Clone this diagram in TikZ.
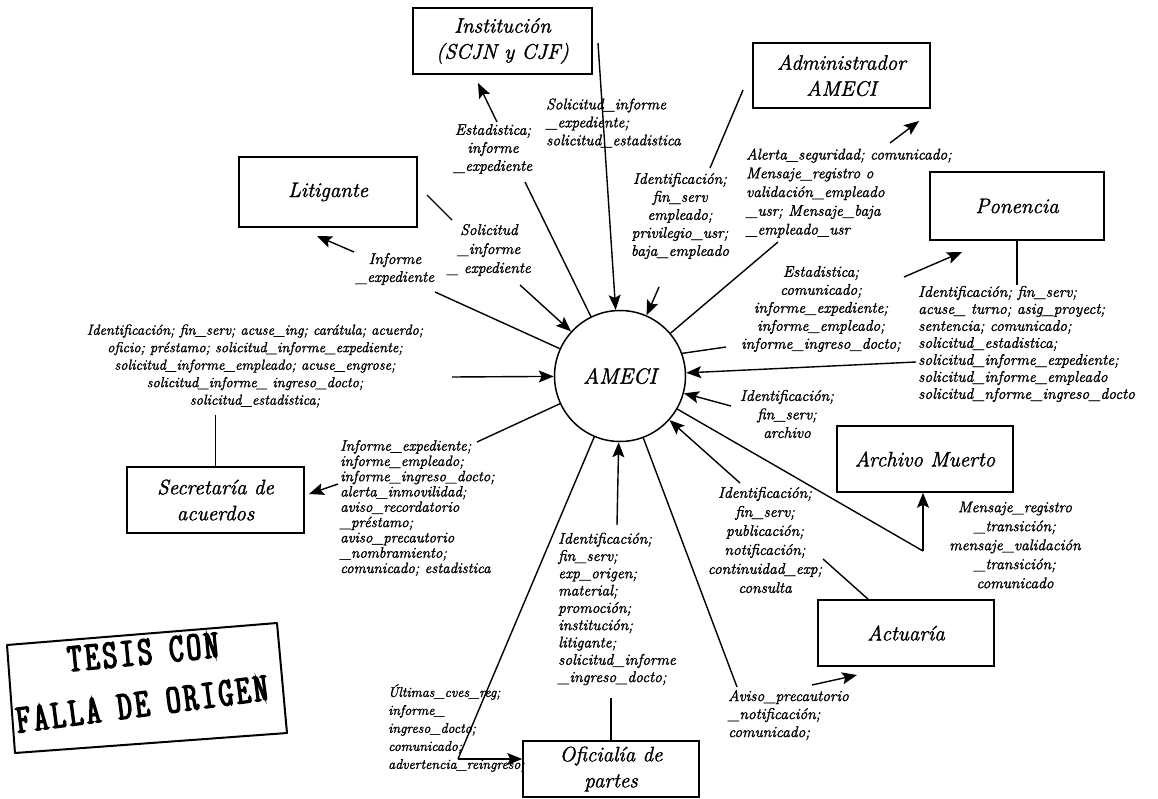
\documentclass[tikz,border=0pt]{standalone}
\usepackage{fontspec}
\setmainfont{Latin Modern Roman}[ItalicFeatures={FakeBold=1.5}]
\newfontfamily\stampfont{lmmonoltcond10-regular.otf}[FakeBold=4, LetterSpace=9]
\usetikzlibrary{arrows.meta}
\begin{document}
\begin{tikzpicture}[x=1pt,y=-1pt,
  box/.style={draw, line width=1.5pt, inner sep=2pt, align=center, font=\fontsize{21}{26}\selectfont\itshape},
  lbl/.style={inner sep=0pt, align=center, font=\fontsize{15.5}{#1}\selectfont\itshape},
  lbl/.default=17,
  con/.style={line width=1.4pt},
  arr/.style={line width=1.4pt, -{Stealth[length=15pt,width=12pt,inset=3pt]}},
  stampline/.style={inner sep=0pt, font=\fontsize{40}{40}\stampfont},
]
\useasboundingbox (0,0) rectangle (1158,799);
\fill[white] (0,0) rectangle (1158,799);

% ---------- boxes ----------
\node[box, minimum width=179pt, minimum height=66pt] (inst) at (502.5,41) {Institución\\(SCJN y CJF)};
\node[box, minimum width=177pt, minimum height=65pt] (admin) at (841.5,75.5) {Administrador\\AMECI};
\node[box, minimum width=178pt, minimum height=70pt] (lit) at (328,192) {Litigante};
\node[box, minimum width=174pt, minimum height=68pt] (pon) at (1017,206) {Ponencia};
\node[box, minimum width=177pt, minimum height=66pt] (sec) at (215.5,500) {Secretaría de\\acuerdos};
\node[box, minimum width=176pt, minimum height=56pt] (ofi) at (611,769) {Oficialía de\\partes};
\node[box, minimum width=176pt, minimum height=66pt] (arch) at (925,459) {Archivo Muerto};
\node[box, minimum width=176pt, minimum height=66pt] (act) at (906,633) {Actuaría};
\node[draw, circle, line width=1.5pt, minimum size=131pt, inner sep=0pt,
      font=\fontsize{22}{26}\selectfont\itshape] (A) at (620,376) {AMECI};

% ---------- 1: Institución -> AMECI ----------
\coordinate (c1) at (598,43);
\draw[arr] (c1) -- (A);
\node[lbl=18, anchor=west, align=left] (l1) at (546,123) {Solicitud\_informe\\\_expediente;\\solicitud\_estadistica};

% ---------- 2: AMECI -> Institución ----------
\coordinate (c2a) at (525,182);
\coordinate (c2b) at (497,122);
\coordinate (c2c) at (478,83);
\draw[con] (A) -- (c2a);
\draw[arr] (c2b) -- (c2c);
\node[lbl=18] (l2) at (493,149) {Estadistica;\\informe\\\_expediente};

% ---------- 3: Litigante -> AMECI ----------
\coordinate (c3a) at (427,195);
\coordinate (c3b) at (452,220);
\coordinate (c3c) at (520,285);
\draw[con] (c3a) -- (c3b);
\draw[arr] (c3c) -- (A);
\node[lbl=19] (l3) at (489,250) {Solicitud\\\_informe\\\_ expediente};

% ---------- 4: AMECI -> Litigante ----------
\coordinate (c4a) at (435,292);
\coordinate (c4b) at (354,252);
\coordinate (c4c) at (317,236);
\draw[con] (A) -- (c4a);
\draw[arr] (c4b) -- (c4c);
\node[lbl=18] (l4) at (395,269) {Informe\\\_expediente};

% ---------- 5: Secretaría -> AMECI ----------
\node[lbl, font=\fontsize{14.5}{17.5}\selectfont\itshape] (l5) at (255,366) {Identificación; fin\_serv; acuse\_ing; carátula; acuerdo;\\oficio; préstamo; solicitud\_informe\_expediente;\\solicitud\_informe\_empleado; acuse\_engrose;\\solicitud\_informe\_ ingreso\_docto;\\solicitud\_estadistica;};
\coordinate (c5a) at (215.5,415);
\coordinate (c5b) at (452,377);
\draw[con] (sec) -- (c5a);
\draw[arr] (c5b) -- (A);

% ---------- 6: AMECI -> Secretaría ----------
\coordinate (c6a) at (477,442);
\coordinate (c6b) at (338,484);
\coordinate (c6c) at (309,494);
\draw[con] (A) -- (c6a);
\draw[arr] (c6b) -- (c6c);
\node[lbl, anchor=west, align=left, font=\fontsize{15}{15.3}\selectfont\itshape] (l6) at (340,508) {Informe\_expediente;\\informe\_empleado;\\informe\_ingreso\_docto;\\alerta\_inmovilidad;\\aviso\_recordatorio\\\_préstamo;\\aviso\_precautorio\\\_nombramiento;\\comunicado; estadistica};

% ---------- 7: Oficialía -> AMECI ----------
\coordinate (c7a) at (611,698);
\coordinate (c7b) at (617,525);
\draw[con] (ofi) -- (c7a);
\draw[arr] (c7b) -- (A);
\node[lbl=17.3, anchor=west, align=left] (l7) at (558,609) {Identificación;\\fin\_serv;\\exp\_origen;\\material;\\promoción;\\institución;\\litigante;\\solicitud\_informe\\\_ingreso\_docto;};

% ---------- 8: AMECI -> Oficialía ----------
\coordinate (c8a) at (458,759);
\draw[con] (A) -- (c8a);
\draw[arr] (c8a) -- (c8a -| ofi.west);
\node[lbl, anchor=west, align=left, font=\fontsize{14}{18}\selectfont\itshape] (l8) at (388,728) {Últimas\_cves\_reg;\\informe\_\\ingreso\_docto;\\comunicado;\\advertencia\_reingreso;};

% ---------- 9: Actuaría -> AMECI ----------
\coordinate (c9a) at (823,559);
\coordinate (c9b) at (740,483);
\draw[con] (act) -- (c9a);
\draw[arr] (c9b) -- (A);
\node[lbl=19] (l9) at (765,540) {Identificación;\\fin\_serv;\\publicación;\\notificación;\\continuidad\_exp;\\consulta};

% ---------- 10: AMECI -> Actuaría ----------
\coordinate (c10a) at (737,687);
\coordinate (c10b) at (812,685);
\coordinate (c10c) at (857,675);
\draw[con] (A) -- (c10a);
\draw[arr] (c10b) -- (c10c);
\node[lbl=18, anchor=west, align=left] (l10) at (728,715) {Aviso\_precautorio\\\_notificación;\\comunicado;};

% ---------- 11: AMECI -> Archivo Muerto ----------
\coordinate (c11a) at (923,551);
\draw[con] (A) -- (c11a);
\draw[arr] (c11a) -- (c11a |- arch.south);
\node[lbl=19] (l11) at (1015,545) {Mensaje\_registro\\\_transición;\\mensaje\_validación\\\_transición;\\comunicado};

% ---------- 12: -> AMECI (archivo) ----------
\node[lbl=18.5] (l12) at (787,414) {Identificación;\\fin\_serv;\\archivo};
\coordinate (c12a) at (731,406);
\draw[arr] (c12a) -- (A);

% ---------- 13: Ponencia -> AMECI ----------
\coordinate (c13a) at (1017,285);
\coordinate (c13b) at (916,362);
\draw[con] (pon) -- (c13a);
\draw[arr] (c13b) -- (A);
\node[lbl=17, anchor=west, align=left] (l13) at (918,344) {Identificación; fin\_serv;\\acuse\_ turno; asig\_proyect;\\sentencia; comunicado;\\solicitud\_estadistica;\\solicitud\_informe\_expediente;\\solicitud\_informe\_empleado\\solicitud\_nforme\_ingreso\_docto};

% ---------- 14: AMECI -> Ponencia ----------
\coordinate (c14a) at (726,347);
\coordinate (c14b) at (904,277);
\coordinate (c14c) at (962,252);
\draw[con] (A.20) -- (c14a);
\draw[arr] (c14b) -- (c14c);
\node[lbl=18] (l14) at (821,309) {Estadistica;\\comunicado;\\informe\_expediente;\\informe\_empleado;\\informe\_ingreso\_docto;};

% ---------- 15: AMECI -> Administrador ----------
\coordinate (c15a) at (778,242);
\coordinate (c15b) at (890,143);
\coordinate (c15c) at (919,121);
\draw[con] (A) -- (c15a);
\draw[arr] (c15b) -- (c15c);
\node[lbl=18.75, anchor=west, align=left] (l15) at (746,193) {Alerta\_seguridad; comunicado;\\Mensaje\_registro o\\validación\_empleado\\\_usr; Mensaje\_baja\\\_empleado\_usr};

% ---------- 16: Administrador -> AMECI ----------
\coordinate (c16a) at (743,90);
\coordinate (c16b) at (710,168);
\coordinate (c16c) at (659,287);
\draw[con] (c16a) -- (c16b);
\draw[arr] (c16c) -- (A);
\node[lbl=18] (l16) at (680,216) {Identificación;\\fin\_serv\\empleado;\\privilegio\_usr;\\baja\_empleado};

% ---------- stamp ----------
\draw[line width=2pt, line join=round] (7,645) -- (277,623) -- (287,733) -- (15,753) -- cycle;
\node[stampline, rotate=5.5] (s1) at (143,652) {TESIS CON};
\node[stampline, rotate=7.5] (s2) at (142,704) {FALLA DE ORIGEN};
\end{tikzpicture}
\end{document}
